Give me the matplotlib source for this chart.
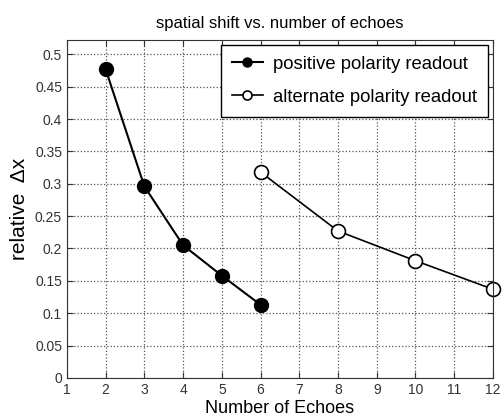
import numpy as np
import matplotlib
matplotlib.use("Agg")
import matplotlib.pyplot as plt

plt.rcParams['font.family'] = ['Liberation Sans', 'DejaVu Sans']

# data
echoes_pos = [2, 3, 4, 5, 6]
shift_pos = [0.477, 0.296, 0.205, 0.158, 0.113]
echoes_alt = [6, 8, 10, 12]
shift_alt = [0.318, 0.227, 0.181, 0.137]
xticks = list(range(1, 13))
yticks = [0, 0.05, 0.1, 0.15, 0.2, 0.25, 0.3, 0.35, 0.4, 0.45, 0.5]

fig = plt.figure(figsize=(5.03, 4.18), dpi=100)
ax = fig.add_axes([0.133, 0.096, 0.847, 0.808])

ax.plot(echoes_pos, shift_pos, '-o', color='black', lw=1.5, ms=10,
        mfc='black', mec='black', label='positive polarity readout', clip_on=False)
ax.plot(echoes_alt, shift_alt, '-o', color='black', lw=1.2, ms=10,
        mfc='white', mec='black', mew=1.2, label='alternate polarity readout', clip_on=False)

ax.set_xlim(1, 12)
ax.set_ylim(0, 0.522)
ax.set_xticks(xticks)
ax.set_yticks(yticks)
ax.set_yticklabels(['0', '0.05', '0.1', '0.15', '0.2', '0.25', '0.3', '0.35', '0.4', '0.45', '0.5'])
ax.tick_params(labelsize=10, colors='#333333', direction='in', length=4, top=True, right=True)
ax.grid(True, linestyle=':', color='#555555', lw=0.9)
for s in ax.spines.values():
    s.set_color('#333333')

ax.set_title('spatial shift vs. number of echoes', fontsize=12, pad=9)
ax.set_xlabel('Number of Echoes', fontsize=13, labelpad=2)
ax.set_ylabel('relative  \u0394x', fontsize=15, labelpad=4)

leg = ax.legend(loc='upper right', fontsize=13.3, fancybox=False, framealpha=1,
                edgecolor='black', borderaxespad=0.25, handlelength=1.7,
                handletextpad=0.55, markerscale=0.65, labelspacing=0.85,
                borderpad=0.6)
leg.get_frame().set_linewidth(1.0)

fig.savefig('out.png', dpi=100)
